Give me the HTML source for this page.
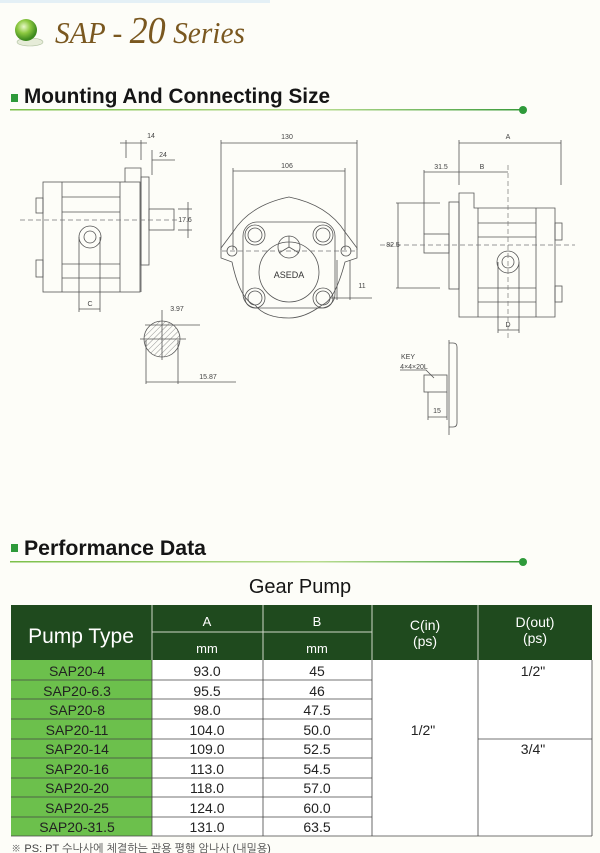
<!DOCTYPE html>
<html><head><meta charset="utf-8"><style>
body{margin:0;background:#fdfdf8;}
svg{display:block}
text{font-family:"Liberation Sans","NanumGothic",sans-serif}
text.ser{font-family:"Liberation Serif",serif}
</style></head><body>
<svg width="600" height="853" viewBox="0 0 600 853" xmlns="http://www.w3.org/2000/svg">
<defs>
<linearGradient id="gl" x1="0" x2="1"><stop offset="0" stop-color="#7cc04a"/><stop offset="0.6" stop-color="#b8dc90"/><stop offset="1" stop-color="#3a9a3a"/></linearGradient>
<radialGradient id="sp" cx="0.4" cy="0.35" r="0.6"><stop offset="0" stop-color="#e8f8c8"/><stop offset="0.5" stop-color="#8cc840"/><stop offset="1" stop-color="#3d8a1e"/></radialGradient>
<pattern id="hatch" width="4" height="4" patternUnits="userSpaceOnUse" patternTransform="rotate(45)"><line x1="0" y1="0" x2="0" y2="4" stroke="#666" stroke-width="0.7"/></pattern>
</defs>
<rect x="0" y="0" width="270" height="3" fill="#e4f0f6"/>
<!-- title -->
<ellipse cx="30" cy="42" rx="13" ry="4" fill="#e6ecd8" stroke="#b0c0a0" stroke-width="0.6"/>
<circle cx="26" cy="30" r="11" fill="url(#sp)"/>
<text class="ser" x="55" y="43" font-style="italic" font-size="31" fill="#7a5820" textLength="190" lengthAdjust="spacingAndGlyphs">SAP - <tspan font-size="38">20</tspan> Series</text>
<!-- section 1 -->
<rect x="11" y="94" width="7" height="8" fill="#2e9a3a"/>
<text x="24" y="103" font-size="21" font-weight="bold" fill="#151515" textLength="306" lengthAdjust="spacingAndGlyphs">Mounting And Connecting Size</text>
<rect x="10" y="109" width="512" height="1.5" fill="url(#gl)"/>
<circle cx="523" cy="110" r="4" fill="#2e9a3a"/>

<g fill="none" stroke="#555" stroke-width="0.8">
<!-- left view -->
<rect x="43" y="182" width="97" height="110"/>
<path d="M125 182 V168 H141 V292"/>
<rect x="141" y="177" width="8" height="88"/>
<rect x="149" y="209" width="25" height="21"/>
<rect x="36" y="198" width="7" height="15"/><rect x="36" y="260" width="7" height="17"/>
<line x1="62" y1="182" x2="62" y2="292"/><line x1="120" y1="182" x2="120" y2="292"/>
<line x1="62" y1="197" x2="120" y2="197"/><line x1="62" y1="212" x2="120" y2="212"/>
<line x1="62" y1="264" x2="120" y2="264"/><line x1="62" y1="278" x2="120" y2="278"/>
<circle cx="90" cy="237" r="11"/><circle cx="90" cy="237" r="6"/>
<line x1="79" y1="237" x2="79" y2="312"/><line x1="100" y1="237" x2="100" y2="312"/>
<line x1="79" y1="309" x2="100" y2="309"/>
<line x1="126" y1="140" x2="126" y2="158"/><line x1="141" y1="140" x2="141" y2="160"/>
<line x1="120" y1="143" x2="147" y2="143"/>
<line x1="152" y1="150" x2="152" y2="175"/><line x1="152" y1="160" x2="175" y2="160"/>
<line x1="188" y1="202" x2="188" y2="238"/><line x1="178" y1="209" x2="192" y2="209"/><line x1="178" y1="230" x2="192" y2="230"/>
<!-- shaft section -->
<circle cx="162" cy="339" r="18" fill="url(#hatch)"/>
<line x1="140" y1="339" x2="186" y2="339"/><line x1="162" y1="310" x2="162" y2="360"/>
<line x1="146" y1="340" x2="146" y2="384"/><line x1="178" y1="340" x2="178" y2="384"/>
<line x1="146" y1="382" x2="236" y2="382"/>
<line x1="145" y1="325" x2="200" y2="325"/>
<!-- middle view -->
<path d="M221 248 L233 232 Q250 205 289 197 Q328 205 345 232 L357 248 L357 258 L345 262 Q335 300 322 305 Q305 318 289 318 Q265 318 255 305 Q240 300 232 262 L221 258 Z"/>
<rect x="243" y="222" width="92" height="86" rx="14"/>
<circle cx="289" cy="272" r="30"/>
<circle cx="289" cy="247" r="11"/>
<path d="M289 247 L289 236 M289 247 L279 253 M289 247 L299 253"/>
<circle cx="255" cy="235" r="10"/><circle cx="255" cy="235" r="7"/>
<circle cx="323" cy="235" r="10"/><circle cx="323" cy="235" r="7"/>
<circle cx="255" cy="298" r="10"/><circle cx="255" cy="298" r="7"/>
<circle cx="323" cy="298" r="10"/><circle cx="323" cy="298" r="7"/>
<circle cx="232" cy="251" r="5"/><circle cx="346" cy="251" r="5"/>
<line x1="221" y1="140" x2="221" y2="250"/><line x1="357" y1="140" x2="357" y2="250"/>
<line x1="221" y1="143" x2="357" y2="143"/>
<line x1="233" y1="168" x2="233" y2="250"/><line x1="345" y1="168" x2="345" y2="250"/>
<line x1="233" y1="171" x2="345" y2="171"/>
<line x1="337" y1="260" x2="337" y2="300"/><line x1="350" y1="260" x2="350" y2="300"/>
<line x1="330" y1="298" x2="372" y2="298"/>
<!-- right view -->
<path d="M474 317 H459 V193 H474 V208 H555 V317 Z"/>
<rect x="449" y="202" width="10" height="87"/>
<rect x="424" y="234" width="25" height="19"/>
<rect x="555" y="223" width="7" height="17"/><rect x="555" y="286" width="7" height="16"/>
<line x1="478" y1="208" x2="478" y2="317"/><line x1="536" y1="208" x2="536" y2="317"/>
<line x1="478" y1="223" x2="536" y2="223"/><line x1="478" y1="237" x2="536" y2="237"/>
<line x1="478" y1="288" x2="536" y2="288"/><line x1="478" y1="302" x2="536" y2="302"/>
<circle cx="508" cy="262" r="11"/><circle cx="508" cy="262" r="6"/>
<line x1="498" y1="262" x2="498" y2="333"/><line x1="519" y1="262" x2="519" y2="333"/>
<line x1="498" y1="330" x2="519" y2="330"/>
<line x1="459" y1="140" x2="459" y2="185"/><line x1="561" y1="140" x2="561" y2="185"/>
<line x1="459" y1="143" x2="561" y2="143"/>
<line x1="424" y1="170" x2="424" y2="234"/>
<line x1="424" y1="172" x2="508" y2="172"/>
<line x1="398" y1="203" x2="398" y2="288"/>
<line x1="396" y1="203" x2="440" y2="203"/><line x1="396" y1="288" x2="440" y2="288"/>
<!-- key view -->
<path d="M449 343 H453 Q457 343 457 347 V423 Q457 427 453 427 H449"/>
<line x1="449" y1="340" x2="449" y2="435"/>
<rect x="424" y="375" width="23" height="17"/>
<line x1="428" y1="392" x2="428" y2="420"/><line x1="447" y1="392" x2="447" y2="420"/>
<line x1="428" y1="417" x2="447" y2="417"/>
<path d="M400 370 H426 L434 378"/>
</g>
<g fill="none" stroke="#777" stroke-width="0.7" stroke-dasharray="5,3">
<line x1="20" y1="220" x2="180" y2="220"/>
<line x1="222" y1="251" x2="358" y2="251"/>
<line x1="380" y1="245" x2="575" y2="245"/>
<line x1="508" y1="165" x2="508" y2="340"/>
</g>
<g font-size="7" fill="#444" text-anchor="middle">
<text x="151" y="138">14</text><text x="163" y="157">24</text>
<text x="185" y="222">17.6</text><text x="90" y="306">C</text>
<text x="177" y="311">3.97</text><text x="208" y="379">15.87</text>
<text x="287" y="139">130</text><text x="287" y="168">106</text>
<text x="362" y="288">11</text>
<text x="508" y="139">A</text><text x="441" y="169">31.5</text><text x="482" y="169">B</text>
<text x="393" y="247">82.5</text><text x="508" y="327">D</text>
<text x="408" y="359">KEY</text><text x="414" y="369">4×4×20L</text>
<text x="437" y="413">15</text>
</g>
<text x="289" y="278" font-size="9" fill="#333" text-anchor="middle">ASEDA</text>

<!-- section 2 -->
<rect x="11" y="544" width="7" height="8" fill="#2e9a3a"/>
<text x="24" y="555" font-size="21" font-weight="bold" fill="#151515" textLength="182" lengthAdjust="spacingAndGlyphs">Performance Data</text>
<rect x="10" y="561" width="512" height="1.5" fill="url(#gl)"/>
<circle cx="523" cy="562" r="4" fill="#2e9a3a"/>
<text x="300" y="593" font-size="20" text-anchor="middle" fill="#151515">Gear Pump</text>

<!-- table -->
<rect x="11" y="605" width="581" height="55" fill="#1f4a1e"/>
<rect x="11" y="660" width="141" height="176" fill="#6cc04c"/>
<rect x="152" y="660" width="440" height="176" fill="#fff"/>
<g stroke="#cfd8c8" stroke-width="1">
<line x1="152" y1="605" x2="152" y2="660"/><line x1="263" y1="605" x2="263" y2="660"/>
<line x1="372" y1="605" x2="372" y2="660"/><line x1="478" y1="605" x2="478" y2="660"/>
<line x1="152" y1="632" x2="372" y2="632"/>
</g>
<g stroke="#444" stroke-width="0.8">
<line x1="11" y1="680" x2="372" y2="680"/><line x1="11" y1="699" x2="372" y2="699"/>
<line x1="11" y1="719" x2="372" y2="719"/><line x1="11" y1="739" x2="372" y2="739"/>
<line x1="11" y1="758" x2="372" y2="758"/><line x1="11" y1="778" x2="372" y2="778"/>
<line x1="11" y1="797" x2="372" y2="797"/><line x1="11" y1="817" x2="372" y2="817"/>
<line x1="478" y1="739" x2="592" y2="739"/>
<line x1="152" y1="660" x2="152" y2="836"/><line x1="263" y1="660" x2="263" y2="836"/>
<line x1="372" y1="660" x2="372" y2="836"/><line x1="478" y1="660" x2="478" y2="836"/>
<line x1="11" y1="836" x2="592" y2="836"/><line x1="592" y1="660" x2="592" y2="836"/>
</g>
<g fill="#fff" text-anchor="middle">
<text x="81" y="643" font-size="21">Pump Type</text>
<text x="207" y="626" font-size="13">A</text><text x="317" y="626" font-size="13">B</text>
<text x="207" y="653" font-size="13">mm</text><text x="317" y="653" font-size="13">mm</text>
<text x="425" y="630" font-size="14">C(in)</text><text x="425" y="646" font-size="14">(ps)</text>
<text x="535" y="627" font-size="14">D(out)</text><text x="535" y="643" font-size="14">(ps)</text>
</g>
<g font-size="14" fill="#222" text-anchor="middle">
<text x="77" y="676">SAP20-4</text><text x="77" y="696">SAP20-6.3</text><text x="77" y="715">SAP20-8</text>
<text x="77" y="735">SAP20-11</text><text x="77" y="754">SAP20-14</text><text x="77" y="774">SAP20-16</text>
<text x="77" y="793">SAP20-20</text><text x="77" y="813">SAP20-25</text><text x="77" y="832">SAP20-31.5</text>
<text x="207" y="676">93.0</text><text x="207" y="696">95.5</text><text x="207" y="715">98.0</text>
<text x="207" y="735">104.0</text><text x="207" y="754">109.0</text><text x="207" y="774">113.0</text>
<text x="207" y="793">118.0</text><text x="207" y="813">124.0</text><text x="207" y="832">131.0</text>
<text x="317" y="676">45</text><text x="317" y="696">46</text><text x="317" y="715">47.5</text>
<text x="317" y="735">50.0</text><text x="317" y="754">52.5</text><text x="317" y="774">54.5</text>
<text x="317" y="793">57.0</text><text x="317" y="813">60.0</text><text x="317" y="832">63.5</text>
<text x="423" y="735">1/2"</text>
<text x="533" y="676">1/2"</text><text x="533" y="754">3/4"</text>
</g>
<text x="11" y="852" font-size="11" fill="#444">※ PS: PT 수나사에 체결하는 관용 평행 암나사 (내밀용)</text>
</svg>
</body></html>
